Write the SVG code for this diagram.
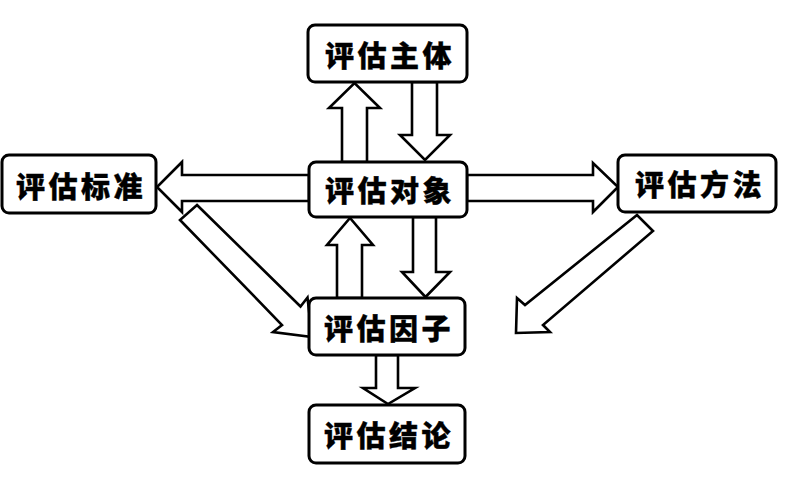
<svg xmlns="http://www.w3.org/2000/svg" width="797" height="486" viewBox="0 0 797 486">
<style>
.arrow{fill:#fff;stroke:#000;stroke-width:2.6;stroke-linejoin:miter}
.box{fill:#fff;stroke:#000;stroke-width:3}
.lbl{font-family:"Noto Sans CJK SC","Noto Sans CJK JP",sans-serif;font-weight:900;font-size:29px;letter-spacing:3.5px;text-anchor:middle;dominant-baseline:central;fill:#000;stroke:#000;stroke-width:0.4}
</style>
<rect width="797" height="486" fill="#fff"/>
<g id="connectors">
<polygon class="arrow" points="342,162 342,108 329,108 354.5,83 380,108 367,108 367,162"/>
<polygon class="arrow" points="412,82 412,135 400,135 425,160 450,135 437,135 437,82"/>
<polygon class="arrow" points="337,298 337,245 327,245 350,218 373,245 362,245 362,298"/>
<polygon class="arrow" points="413,217 413,272 402,272 425.5,297 450,272 436,272 436,217"/>
<polygon class="arrow" points="376,355 376,388 363,388 388,404 415,388 398,388 398,355"/>
<polygon class="arrow" points="309,175 182,175 182,162 157,187 182,212 182,201 309,201"/>
<polygon class="arrow" points="467,175 593,175 593,163 618,187 593,212 593,201 467,201"/>
<polygon class="arrow" points="197,205 300.5,306.5 307.5,297.5 312,337 273,332 282,325 180,220"/>
<polygon class="arrow" points="637,215 525,305 517,298 516,333 550,332 543,325 653,231"/>
</g>
<g id="node-zhuti">
<rect class="box" x="308" y="25" width="159" height="57" rx="7"/>
<text class="lbl" x="390" y="54">评估主体</text>
</g>
<g id="node-duixiang">
<rect class="box" x="309" y="162" width="158" height="55" rx="7"/>
<text class="lbl" x="390" y="189">评估对象</text>
</g>
<g id="node-biaozhun">
<rect class="box" x="2" y="155" width="154" height="58" rx="7"/>
<text class="lbl" x="81" y="185">评估标准</text>
</g>
<g id="node-fangfa">
<rect class="box" x="618" y="155" width="158" height="57" rx="7"/>
<text class="lbl" x="700" y="183">评估方法</text>
</g>
<g id="node-yinzi">
<rect class="box" x="309" y="298" width="156" height="57" rx="7"/>
<text class="lbl" x="389" y="327">评估因子</text>
</g>
<g id="node-jielun">
<rect class="box" x="309" y="405" width="156" height="58" rx="7"/>
<text class="lbl" x="389" y="434">评估结论</text>
</g>
</svg>
